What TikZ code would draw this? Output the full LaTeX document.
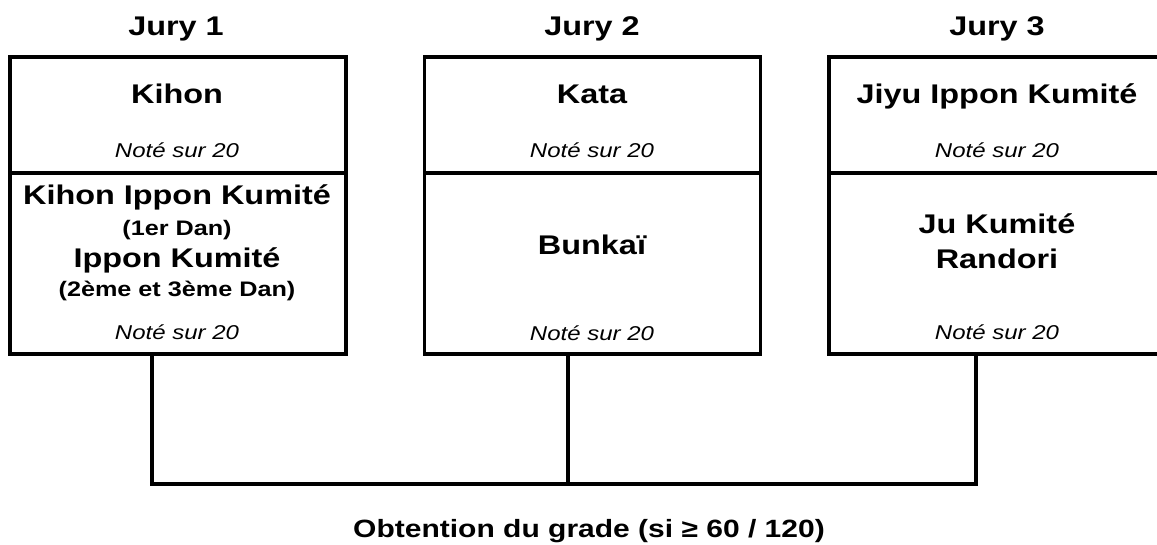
\documentclass[tikz,border=0pt]{standalone}
\usepackage{fontspec}
\setmainfont{Liberation Sans}[FakeStretch=1.2]
\begin{document}
\begin{tikzpicture}[x=1pt,y=-1pt,
  jury/.style={font=\fontsize{27}{30}\selectfont\bfseries, inner sep=0pt, anchor=base},
  ttl/.style={font=\fontsize{27}{30}\selectfont\bfseries, inner sep=0pt, anchor=base},
  sub/.style={font=\fontsize{21}{24}\selectfont\bfseries, inner sep=0pt, anchor=base},
  note/.style={font=\fontsize{20}{24}\selectfont\itshape, inner sep=0pt, anchor=base},
  captext/.style={font=\fontsize{25}{30}\selectfont\bfseries, inner sep=0pt, anchor=base},
  box/.style={draw, line width=3.8pt, inner sep=0pt, minimum width=336pt},
  topbox/.style={box, minimum height=116pt},
  botbox/.style={box, minimum height=181pt},
  conn/.style={line width=3.5pt, line cap=rect}
]
\useasboundingbox (0,0) rectangle (1157,544);
\clip (0,0) rectangle (1157,544);
% boxes
\node[topbox] (t1) at (178,115) {};
\node[botbox] (b1) at (178,263.5) {};
\node[topbox] (t2) at (592.5,115) {};
\node[botbox] (b2) at (592.5,263.5) {};
\node[topbox] (t3) at (997,115) {};
\node[botbox] (b3) at (997,263.5) {};
% jury labels
\node[jury] (j1) at (176,35) {Jury 1};
\node[jury] (j2) at (592,35) {Jury 2};
\node[jury] (j3) at (997,35) {Jury 3};
% box 1
\node[ttl] (k1) at (177,103) {Kihon};
\node[note] (n1a) at (177,157) {Noté sur 20};
\node[ttl] (k1b) at (177,204) {Kihon Ippon Kumité};
\node[sub] (d1) at (177,235) {(1er Dan)};
\node[ttl] (k1c) at (177,267) {Ippon Kumité};
\node[sub] (d2) at (177,296) {(2ème et 3ème Dan)};
\node[note] (n1b) at (177,339) {Noté sur 20};
% box 2
\node[ttl] (k2) at (592,103) {Kata};
\node[note] (n2a) at (592,157) {Noté sur 20};
\node[ttl] (k2b) at (592,254) {Bunkaï};
\node[note] (n2b) at (592,340) {Noté sur 20};
% box 3
\node[ttl] (k3) at (997,103) {Jiyu Ippon Kumité};
\node[note] (n3a) at (997,157) {Noté sur 20};
\node[ttl] (k3b) at (997,233) {Ju Kumité};
\node[ttl] (k3c) at (997,268) {Randori};
\node[note] (n3b) at (997,339) {Noté sur 20};
% connectors
\coordinate (c1) at (152,484);
\coordinate (c2) at (568,484);
\coordinate (c3) at (976,484);
\draw[conn] (b1.south -| c1) -- (c1) -- (c3) -- (b3.south -| c3);
\draw[conn] (b2.south -| c2) -- (c2);
% caption
\node[captext] (res) at (589,537) {Obtention du grade (si ≥ 60 / 120)};
\end{tikzpicture}
\end{document}
